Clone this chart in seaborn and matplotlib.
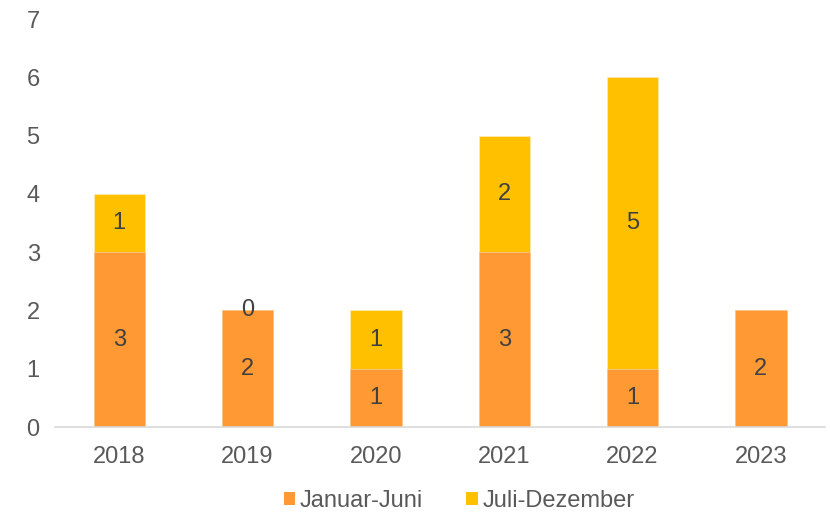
import matplotlib
matplotlib.use("Agg")
import matplotlib.pyplot as plt
from matplotlib.patches import Patch
import seaborn as sns
import numpy as np
import pandas as pd

years = ["2018", "2019", "2020", "2021", "2022", "2023"]
jan_jun = [3, 2, 1, 3, 1, 2]
jul_dez = [1, 0, 1, 2, 5, np.nan]
series_names = ["Januar-Juni", "Juli-Dezember"]
colors = ["#FF9933", "#FFC000"]

sns.set_theme(style="white")
plt.rcParams["font.family"] = ["Liberation Sans", "DejaVu Sans"]

jan = np.array(jan_jun, dtype=float)
jul = np.array(jul_dez, dtype=float)
total = jan + np.nan_to_num(jul)
df = pd.DataFrame({"Jahr": years, "jan": jan, "total": total})

fig = plt.figure(figsize=(8.3, 5.14), dpi=100)
ax = fig.add_axes([55/830, 1-427/514, 770/830, 408/514])

sns.barplot(data=df, x="Jahr", y="total", color=colors[1], saturation=1,
            width=0.4, ax=ax, edgecolor="#FFE9B0", linewidth=0.6)
sns.barplot(data=df, x="Jahr", y="jan", color=colors[0], saturation=1,
            width=0.4, ax=ax, edgecolor="#FFC590", linewidth=0.6)

fs = 17
txt_col = "#404040"
for i in range(len(years)):
    ax.text(i, jan[i] / 2, f"{int(jan[i])}", ha="center", va="center",
            fontsize=fs, color=txt_col)
    if not np.isnan(jul[i]):
        ax.text(i, jan[i] + jul[i] / 2, f"{int(jul[i])}", ha="center",
                va="center", fontsize=fs, color=txt_col)

ax.set_ylim(0, 7)
ax.set_xlim(-0.5, len(years) - 0.5)
ax.set_yticks(range(0, 8))
ax.set_xlabel("")
ax.set_ylabel("")
ax.tick_params(axis="both", length=0, labelsize=fs, colors="#595959")
ax.tick_params(axis="y", pad=11)
ax.tick_params(axis="x", pad=14)
for s in ["top", "right", "left"]:
    ax.spines[s].set_visible(False)
ax.spines["bottom"].set_color("#D9D9D9")
ax.spines["bottom"].set_linewidth(1.2)

handles = [Patch(facecolor=c, edgecolor="none") for c in colors]
fig.legend(handles, series_names, loc="center", bbox_to_anchor=(459/830, 1-501/514),
           ncol=2, frameon=False, fontsize=fs, handlelength=0.5, handleheight=0.5,
           handletextpad=0.2, columnspacing=1.8, labelcolor="#595959")

fig.savefig("out.png", dpi=100)
